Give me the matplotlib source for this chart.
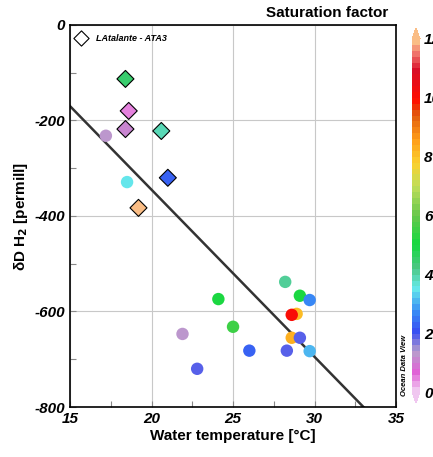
import numpy as np
import matplotlib.pyplot as plt
from matplotlib.colors import LinearSegmentedColormap

plt.rcParams['font.family'] = ['Liberation Sans', 'DejaVu Sans']
plt.rcParams['axes.unicode_minus'] = False

# LAtalante - ATA3 (diamonds)
ata_temp = [18.4, 18.6, 18.4, 20.6, 21.0, 19.2]
ata_dd = [-113, -180, -218, -222, -320, -383]
ata_sat = [4.4, 0.6, 1.2, 3.8, 2.2, 12.0]

# other stations (circles)
st_temp = [17.2, 18.5, 28.2, 29.1, 29.7, 24.1, 28.9, 28.6, 25.0, 21.9, 28.6, 29.1, 26.0, 28.3, 29.7, 22.8]
st_dd = [-232, -329, -538, -567, -576, -574, -605, -607, -632, -647, -655, -655, -682, -682, -683, -720]
st_sat = [1.3, 3.5, 4.0, 5.0, 2.7, 5.0, 8.0, 10.0, 5.6, 1.3, 8.3, 1.8, 2.2, 1.8, 3.0, 1.8]

# regression line end points
line_temp = [15, 33]
line_dd = [-170, -800]

cb_ticks = [0, 2, 4, 6, 8, 10, 12]

odv = LinearSegmentedColormap.from_list('odv', [
    (0.0 / 12, (0.94, 0.78, 0.94)),
    (0.6 / 12, (0.88, 0.38, 0.84)),
    (1.3 / 12, (0.72, 0.62, 0.80)),
    (2.0 / 12, (0.22, 0.30, 0.95)),
    (2.7 / 12, (0.22, 0.55, 0.96)),
    (3.5 / 12, (0.40, 0.92, 0.92)),
    (4.2 / 12, (0.30, 0.78, 0.52)),
    (5.0 / 12, (0.08, 0.85, 0.25)),
    (6.0 / 12, (0.40, 0.78, 0.30)),
    (7.0 / 12, (0.75, 0.87, 0.35)),
    (7.8 / 12, (0.98, 0.82, 0.18)),
    (8.6 / 12, (1.00, 0.62, 0.10)),
    (9.5 / 12, (0.88, 0.35, 0.05)),
    (10.0 / 12, (1.00, 0.05, 0.00)),
    (11.0 / 12, (0.85, 0.05, 0.15)),
    (11.6 / 12, (0.94, 0.45, 0.42)),
    (12.0 / 12, (0.98, 0.74, 0.52)),
], N=60)

fig = plt.figure(figsize=(4.33, 4.57), dpi=100)
ax = fig.add_axes([0.1617, 0.1094, 0.753, 0.836])

ax.plot(line_temp, line_dd, color='#333333', lw=1.8, zorder=2)
ax.scatter(st_temp, st_dd, c=st_sat, cmap=odv, vmin=0, vmax=12, s=80, edgecolors='none', zorder=3)
sc = ax.scatter(ata_temp, ata_dd, c=ata_sat, cmap=odv, vmin=0, vmax=12, s=75, marker='D',
                edgecolors='black', linewidths=0.8, zorder=4)

ax.scatter([15.7], [-28], marker='D', s=60, facecolors='white', edgecolors='black', linewidths=0.8, zorder=4)
ax.text(16.6, -28, 'LAtalante - ATA3', fontsize=6.5, fontweight='bold', style='italic', va='center')

ax.set_xlim(15, 35)
ax.set_ylim(-800, 0)
ax.set_xticks([15, 20, 25, 30, 35])
ax.set_yticks([-800, -600, -400, -200, 0])
ax.set_xticks(np.arange(15, 35, 2.5), minor=True)
ax.set_yticks(np.arange(-800, 0, 100), minor=True)
ax.grid(True, which='major', color='#c8c8c8', lw=0.8)
ax.tick_params(which='both', direction='in', labelsize=11, width=0.8, length=4, color='#888888')
for lab in ax.get_xticklabels() + ax.get_yticklabels():
    lab.set_fontweight('bold')
    lab.set_fontstyle('italic')
for sp in ax.spines.values():
    sp.set_linewidth(1.2)

ax.set_xlabel('Water temperature [°C]', fontsize=11, fontweight='bold', labelpad=2)
ax.set_ylabel('δD H$_\\mathbf{2}$ [permill]', fontsize=11, fontweight='bold', labelpad=3)

cax = fig.add_axes([0.9515, 0.118, 0.0185, 0.82])
cb = fig.colorbar(sc, cax=cax, extend='both', ticks=cb_ticks, extendfrac=0.03)
cb.outline.set_visible(False)
cb.ax.tick_params(length=0, labelsize=11, pad=3)
for lab in cb.ax.get_yticklabels():
    lab.set_fontweight('bold')
    lab.set_fontstyle('italic')

fig.text(0.755, 0.972, 'Saturation factor', fontsize=11, fontweight='bold', ha='center', va='center')
fig.text(0.935, 0.2, 'Ocean Data View', fontsize=5.5, fontweight='bold', style='italic',
         rotation=90, ha='center', va='center')

fig.savefig('out.png', dpi=100)
